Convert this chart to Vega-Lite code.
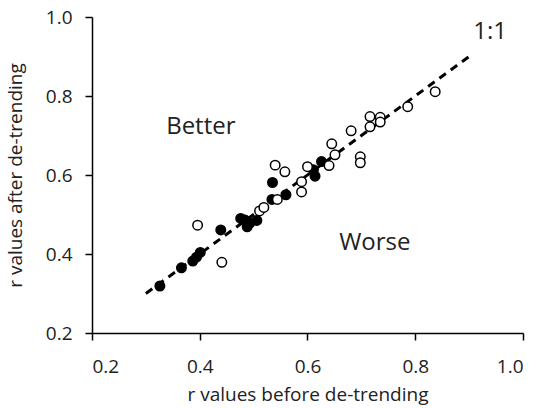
{
  "$schema": "https://vega.github.io/schema/vega-lite/v6.json",
  "width": 431,
  "height": 316,
  "autosize": {"type": "none"},
  "padding": {"left": 92, "top": 17, "right": 15, "bottom": 75},
  "background": "white",
  "config": {
    "font": "Open Sans",
    "view": {"stroke": null},
    "axis": {
      "grid": false,
      "domainColor": "#000",
      "domainWidth": 1.5,
      "tickColor": "#000",
      "tickWidth": 1.5,
      "tickSize": 7,
      "labelFont": "Open Sans",
      "labelFontSize": 19,
      "labelColor": "#222",
      "labelPadding": 13,
      "titleFont": "Open Sans",
      "titleFontSize": 19,
      "titleFontWeight": "normal",
      "titleColor": "#222"
    }
  },
  "datasets": {
    "pts": [
      {"before": 0.326, "after": 0.319, "kind": "filled"},
      {"before": 0.366, "after": 0.365, "kind": "filled"},
      {"before": 0.387, "after": 0.382, "kind": "filled"},
      {"before": 0.394, "after": 0.392, "kind": "filled"},
      {"before": 0.401, "after": 0.404, "kind": "filled"},
      {"before": 0.439, "after": 0.461, "kind": "filled"},
      {"before": 0.476, "after": 0.490, "kind": "filled"},
      {"before": 0.484, "after": 0.486, "kind": "filled"},
      {"before": 0.488, "after": 0.469, "kind": "filled"},
      {"before": 0.493, "after": 0.478, "kind": "filled"},
      {"before": 0.506, "after": 0.485, "kind": "filled"},
      {"before": 0.534, "after": 0.538, "kind": "filled"},
      {"before": 0.535, "after": 0.581, "kind": "filled"},
      {"before": 0.560, "after": 0.550, "kind": "filled"},
      {"before": 0.611, "after": 0.613, "kind": "filled"},
      {"before": 0.614, "after": 0.597, "kind": "filled"},
      {"before": 0.626, "after": 0.634, "kind": "filled"},
      {"before": 0.396, "after": 0.473, "kind": "open"},
      {"before": 0.441, "after": 0.379, "kind": "open"},
      {"before": 0.511, "after": 0.509, "kind": "open"},
      {"before": 0.519, "after": 0.518, "kind": "open"},
      {"before": 0.540, "after": 0.625, "kind": "open"},
      {"before": 0.544, "after": 0.538, "kind": "open"},
      {"before": 0.558, "after": 0.608, "kind": "open"},
      {"before": 0.589, "after": 0.583, "kind": "open"},
      {"before": 0.589, "after": 0.557, "kind": "open"},
      {"before": 0.600, "after": 0.621, "kind": "open"},
      {"before": 0.640, "after": 0.624, "kind": "open"},
      {"before": 0.645, "after": 0.679, "kind": "open"},
      {"before": 0.651, "after": 0.651, "kind": "open"},
      {"before": 0.681, "after": 0.712, "kind": "open"},
      {"before": 0.698, "after": 0.646, "kind": "open"},
      {"before": 0.698, "after": 0.631, "kind": "open"},
      {"before": 0.716, "after": 0.748, "kind": "open"},
      {"before": 0.716, "after": 0.722, "kind": "open"},
      {"before": 0.735, "after": 0.746, "kind": "open"},
      {"before": 0.735, "after": 0.734, "kind": "open"},
      {"before": 0.786, "after": 0.773, "kind": "open"},
      {"before": 0.837, "after": 0.811, "kind": "open"}
    ],
    "line": [
      {"before": 0.3, "after": 0.3},
      {"before": 0.9, "after": 0.9}
    ],
    "labels": [
      {"before": 0.402, "after": 0.722, "text": "Better"},
      {"before": 0.725, "after": 0.428, "text": "Worse"},
      {"before": 0.939, "after": 0.962, "text": "1:1"}
    ]
  },
  "encoding": {
    "x": {
      "field": "before", "type": "quantitative",
      "scale": {"domain": [0.2, 1.0], "nice": false, "zero": false},
      "axis": {"values": [0.2, 0.4, 0.6, 0.8, 1.0], "format": ".1f", "title": "r values before de-trending", "labelPadding": 17, "titlePadding": 9}
    },
    "y": {
      "field": "after", "type": "quantitative",
      "scale": {"domain": [0.2, 1.0], "nice": false, "zero": false},
      "axis": {"values": [0.2, 0.4, 0.6, 0.8, 1.0], "format": ".1f", "title": "r values after de-trending", "titlePadding": 20}
    }
  },
  "layer": [
    {
      "data": {"name": "line"},
      "mark": {"type": "line", "color": "#000", "strokeWidth": 3, "strokeDash": [8, 6]},
      "encoding": {}
    },
    {
      "data": {"name": "pts"},
      "mark": {"type": "point", "shape": "circle", "size": 90, "strokeWidth": 1.5, "opacity": 1},
      "encoding": {
        "fill": {
          "field": "kind", "type": "nominal",
          "scale": {"domain": ["filled", "open"], "range": ["#000", "#fff"]},
          "legend": null
        },
        "stroke": {"value": "#000"}
      }
    },
    {
      "data": {"name": "labels"},
      "mark": {"type": "text", "font": "Open Sans", "fontSize": 24, "color": "#222", "align": "center", "baseline": "middle"},
      "encoding": {"text": {"field": "text"}}
    }
  ]
}
